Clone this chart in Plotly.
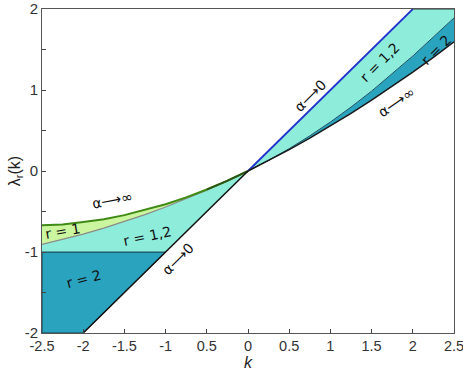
import plotly.graph_objects as go

# curva alpha -> infinito, lado izquierdo (k <= 0)
k_left = [-2.5, -2.25, -2.0, -1.75, -1.5, -1.25, -1.0, -0.75, -0.5, -0.25, 0.0]
lam_r1_inf = [-0.67, -0.66, -0.63, -0.595, -0.545, -0.48, -0.41, -0.325, -0.228, -0.12, 0.0]
lam_r12_inf_left = [-0.905, -0.846, -0.78, -0.706, -0.626, -0.539, -0.445, -0.344, -0.236, -0.122, 0.0]

# lado derecho (k >= 0)
k_right = [0.0, 0.25, 0.5, 0.75, 1.0, 1.25, 1.5, 1.75, 2.0, 2.25, 2.5]
lam_r12_right = [0.0, 0.132, 0.276, 0.434, 0.605, 0.789, 0.986, 1.197, 1.42, 1.655, 1.89]
lam_r2_inf_right = [0.0, 0.128, 0.264, 0.406, 0.555, 0.711, 0.874, 1.043, 1.22, 1.403, 1.594]

# alpha -> 0 : recta lambda = k
k_alpha0 = [-2.0, -1.0, 0.0, 2.0]
lam_alpha0 = [-2.0, -1.0, 0.0, 2.0]
lam_r2_top = -1.0
lam_top = 2.0

x_ticks = [-2.5, -2, -1.5, -1, -0.5, 0, 0.5, 1, 1.5, 2, 2.5]
x_labels = ["-2.5", "-2", "-1.5", "-1", "0.5", "0", "0.5", "1", "1.5", "2", "2.5"]
y_ticks = [-2, -1.5, -1, -0.5, 0, 0.5, 1, 1.5, 2]
y_labels = ["-2", " ", "-1", " ", "0", " ", "1", " ", "2"]

GREEN = "#cbf59e"
CYAN = "#8decda"
DARK = "#2aa3bf"

fig = go.Figure()

# region r=2 izquierda
fig.add_trace(go.Scatter(
    x=[k_left[0], k_alpha0[1], k_alpha0[0], k_left[0], k_left[0]],
    y=[lam_r2_top, lam_alpha0[1], lam_alpha0[0], lam_alpha0[0], lam_r2_top],
    fill="toself", fillcolor=DARK, mode="lines",
    line=dict(color="#1a3a45", width=1)))

# region r=1,2 izquierda
xs = k_left + [k_alpha0[1], k_left[0], k_left[0]]
ys = lam_r12_inf_left + [lam_alpha0[1], lam_r2_top, lam_r12_inf_left[0]]
fig.add_trace(go.Scatter(x=xs, y=ys, fill="toself", fillcolor=CYAN, mode="lines",
                         line=dict(color="rgba(0,0,0,0)", width=0)))

# region r=1 izquierda
xs = k_left + k_left[::-1]
ys = lam_r1_inf + lam_r12_inf_left[::-1]
fig.add_trace(go.Scatter(x=xs, y=ys, fill="toself", fillcolor=GREEN, mode="lines",
                         line=dict(color="rgba(0,0,0,0)", width=0)))

# region r=1,2 derecha
xs = [0.0, k_alpha0[3], k_right[-1]] + k_right[::-1]
ys = [0.0, lam_alpha0[3], lam_top] + lam_r12_right[::-1]
fig.add_trace(go.Scatter(x=xs, y=ys, fill="toself", fillcolor=CYAN, mode="lines",
                         line=dict(color="rgba(0,0,0,0)", width=0)))

# region r=2 derecha
xs = k_right + k_right[::-1]
ys = lam_r12_right + lam_r2_inf_right[::-1]
fig.add_trace(go.Scatter(x=xs, y=ys, fill="toself", fillcolor=DARK, mode="lines",
                         line=dict(color="rgba(0,0,0,0)", width=0)))

# bordes
fig.add_trace(go.Scatter(x=k_left, y=lam_r12_inf_left, mode="lines",
                         line=dict(color="#8a8a8a", width=1.2)))
fig.add_trace(go.Scatter(x=k_left, y=lam_r1_inf, mode="lines",
                         line=dict(color="#3f8a14", width=2)))
fig.add_trace(go.Scatter(x=k_left[-3:], y=lam_r1_inf[-3:], mode="lines",
                         line=dict(color="#2b4f1a", width=1.5)))
fig.add_trace(go.Scatter(x=[k_left[0], k_alpha0[1]], y=[lam_r2_top, lam_r2_top], mode="lines",
                         line=dict(color="#1f5566", width=1.2)))
fig.add_trace(go.Scatter(x=k_alpha0[:3], y=lam_alpha0[:3], mode="lines",
                         line=dict(color="#111111", width=1.5)))
fig.add_trace(go.Scatter(x=k_alpha0[2:], y=lam_alpha0[2:], mode="lines",
                         line=dict(color="#2233cc", width=1.8)))
fig.add_trace(go.Scatter(x=[k_alpha0[3], k_right[-1]], y=[lam_top, lam_top], mode="lines",
                         line=dict(color="#333333", width=1.2)))
fig.add_trace(go.Scatter(x=k_right, y=lam_r12_right, mode="lines",
                         line=dict(color="#1f5566", width=1)))
fig.add_trace(go.Scatter(x=k_right, y=lam_r2_inf_right, mode="lines",
                         line=dict(color="#1a1a1a", width=1.5)))

# etiquetas
labels = [
    (-1.65, -0.36, "α⟶∞", -11),
    (-2.25, -0.74, "r = 1", -10),
    (-1.22, -0.80, "r = 1,2", -12),
    (-0.85, -1.09, "α⟶0", -45),
    (-2.0, -1.33, "r = 2", -15),
    (0.75, 0.93, "α⟶0", -45),
    (1.6, 1.35, "r = 1,2", -45),
    (2.28, 1.50, "r = 2", -45),
    (1.8, 0.85, "α⟶∞", -35),
]
for x, y, txt, ang in labels:
    fig.add_annotation(x=x, y=y, text=txt, textangle=ang, showarrow=False,
                       font=dict(family="DejaVu Sans", size=14, color="#111111"))

fig.update_layout(
    width=463, height=380,
    margin=dict(l=42, r=9, t=9, b=47),
    plot_bgcolor="white", paper_bgcolor="white",
    showlegend=False,
    font=dict(family="Liberation Sans, Arial", size=15, color="#333333"),
)
fig.update_xaxes(range=[-2.5, 2.5], tickvals=x_ticks, ticktext=x_labels,
                 ticks="inside", ticklen=4, tickcolor="#444444", automargin=False,
                 ticklabeloverflow="allow", tickfont=dict(size=14.5),
                 showline=True, linecolor="#555555", linewidth=1, mirror=True,
                 showgrid=False, zeroline=False,
                 title=dict(text="<i>k</i>", standoff=0, font=dict(size=16, color="#222222")))
fig.update_yaxes(range=[-2, 2], tickvals=y_ticks, ticktext=y_labels,
                 ticks="inside", ticklen=4, tickcolor="#444444", automargin=False,
                 ticklabeloverflow="allow",
                 showline=True, linecolor="#555555", linewidth=1, mirror=True,
                 showgrid=False, zeroline=False,
                 title=dict(text="λ<sub>r</sub>(k)", standoff=0, font=dict(size=16, color="#222222")))

# quitar el margen por defecto del body para que la figura empiece en (0,0)
fig.write_html("out.html", config={"displayModeBar": False},
               post_script="document.body.style.margin='0';")
